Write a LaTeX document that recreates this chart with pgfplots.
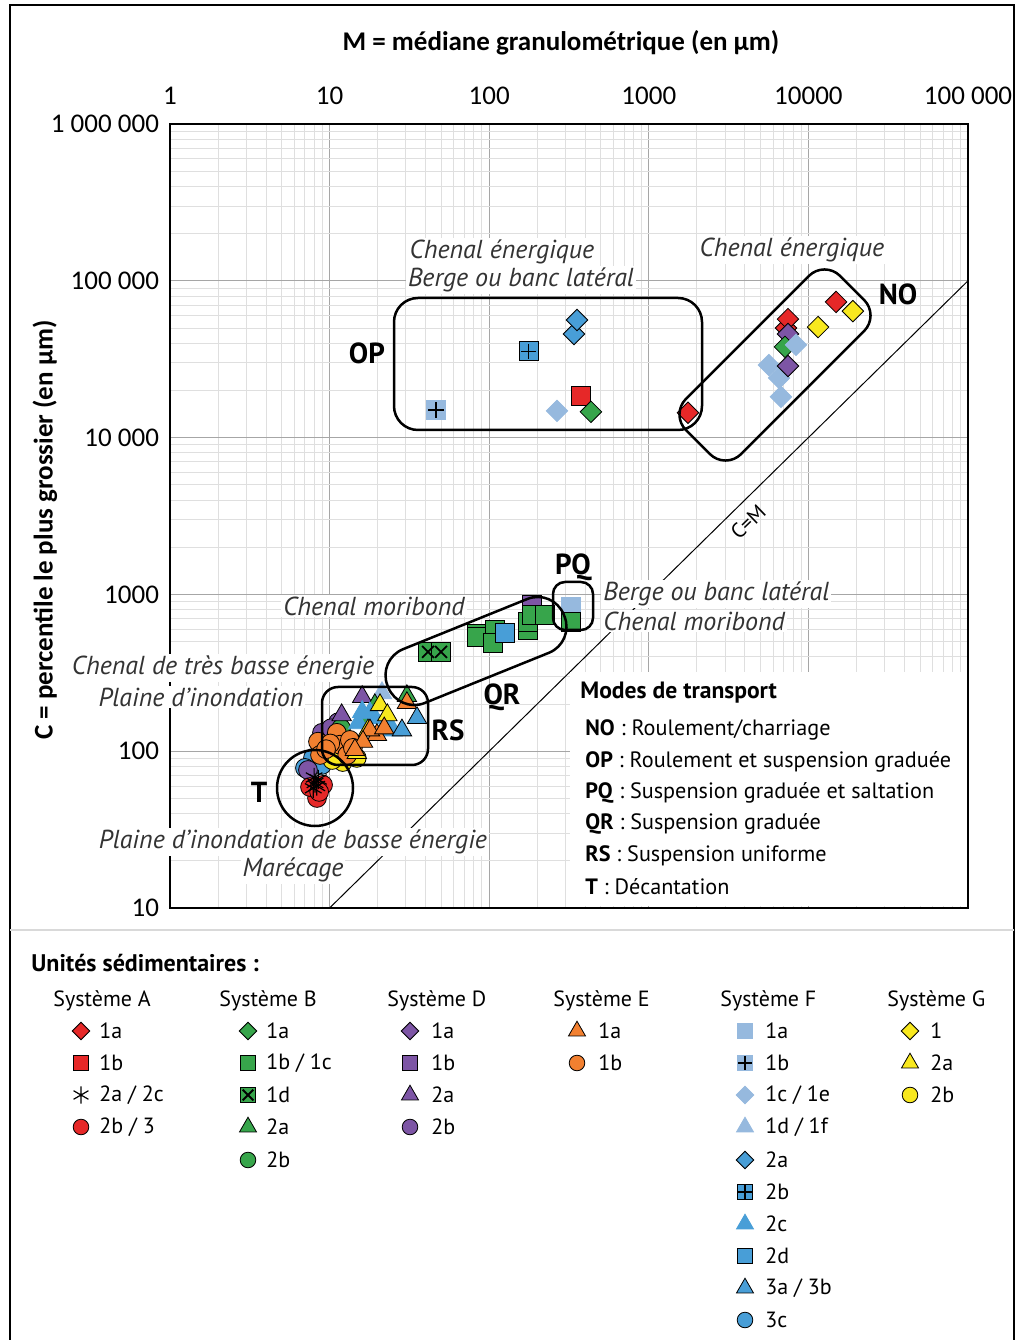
\documentclass[border=0pt]{standalone}
\usepackage{pgfplots}
\pgfplotsset{compat=1.18}
\usepackage{fontspec}
\setmainfont{PT Sans}
\newfontfamily\carlito{Carlito}

\definecolor{cRed}{RGB}{230,40,40}
\definecolor{cGreen}{RGB}{55,165,75}
\definecolor{cPurple}{RGB}{125,85,165}
\definecolor{cOrange}{RGB}{242,128,48}
\definecolor{cLight}{RGB}{150,185,222}
\definecolor{cBlue}{RGB}{72,158,215}
\definecolor{cYellow}{RGB}{248,232,30}

\pgfplotsset{
  D/.style={only marks, mark=square*, mark size=3.8pt, mark options={rotate=45, fill=#1, draw=black, line width=0.4pt}},
  Dn/.style={only marks, mark=square*, mark size=3.8pt, mark options={rotate=45, fill=#1, draw=#1, line width=0.4pt}},
  S/.style={only marks, mark=square*, mark size=4.7pt, mark options={fill=#1, draw=black, line width=0.4pt}},
  Sn/.style={only marks, mark=square*, mark size=4.7pt, mark options={fill=#1, draw=#1, line width=0.4pt}},
  Tr/.style={only marks, mark=triangle*, mark size=5.6pt, mark options={fill=#1, draw=black, line width=0.4pt}},
  Trn/.style={only marks, mark=triangle*, mark size=5.6pt, mark options={fill=#1, draw=#1, line width=0.4pt}},
  Ci/.style={only marks, mark=*, mark size=4.7pt, mark options={fill=#1, draw=black, line width=0.4pt}},
  Pl/.style={only marks, mark=+, mark size=3.8pt, mark options={draw=black, line width=0.6pt}},
  Xx/.style={only marks, mark=x, mark size=4.2pt, mark options={draw=black, line width=0.9pt}},
  St/.style={only marks, mark=asterisk, mark size=4.8pt, mark options={draw=black, line width=0.6pt}},
}

\begin{document}
\begin{tikzpicture}[
  ann/.style={font=\itshape\fontsize{13}{15}\selectfont, text=black!80, fill=white, inner sep=1pt},
  zl/.style={font=\bfseries\fontsize{14.5}{16}\selectfont},
  zone/.style={line width=1.25pt, black},
  lg/.style={anchor=west, font=\fontsize{11}{13}\selectfont, inner sep=0pt},
  md/.style={anchor=west, font=\fontsize{11.1}{13}\selectfont, inner sep=0pt}]
\path[use as bounding box] (0pt,0pt) rectangle (508pt,670pt);

\begin{axis}[
  at={(85pt,216pt)}, anchor=south west,
  width=399pt, height=392pt, scale only axis,
  xmode=log, ymode=log,
  xmin=1, xmax=100000, ymin=10, ymax=1000000,
  xtick={1,10,100,1000,10000,100000},
  xticklabels={1,10,100,1000,10000,100 000},
  ytick={10,100,1000,10000,100000,1000000},
  yticklabels={10,100,1000,10 000,100 000,1 000 000},
  minor xtick={2,3,4,5,6,7,8,9,20,30,40,50,60,70,80,90,200,300,400,500,600,700,800,900,2000,3000,4000,5000,6000,7000,8000,9000,20000,30000,40000,50000,60000,70000,80000,90000},
  minor ytick={20,30,40,50,60,70,80,90,200,300,400,500,600,700,800,900,2000,3000,4000,5000,6000,7000,8000,9000,20000,30000,40000,50000,60000,70000,80000,90000,200000,300000,400000,500000,600000,700000,800000,900000},
  xticklabel pos=upper,
  major tick length=0pt, minor tick length=0pt,
  grid=both,
  major grid style={gray!70, line width=0.5pt},
  minor grid style={gray!25, line width=0.4pt},
  axis line style={line width=0.8pt},
  tick label style={font=\carlito\fontsize{13.5}{15}\selectfont},
  xticklabel style={yshift=6pt},
  yticklabel style={xshift=-2pt},
  clip=false,
]
\addplot[black, line width=0.5pt] coordinates {(10,10) (100000,100000)};

% cercles
\addplot[Ci=cBlue] coordinates {(7.87,90.6) (8.96,81.7) (7.01,78.2)};
\addplot[Ci=cPurple] coordinates {(11.3,153) (8.96,131) (7.32,75.9) (10.2,140)};
\addplot[Ci=cGreen] coordinates {(11.8,140)};
\addplot[Ci=cYellow] coordinates {(12.1,85.3) (10.4,87.9) (14.8,90.6)};
\addplot[Ci=cOrange] coordinates {(8.46,115) (8.71,94.6) (11.1,131) (11.6,110) (12.9,94.6) (10.1,112) (13.4,118) (9.5,103) (14,105)};
\addplot[Ci=cRed] coordinates {(8.34,50.3) (7.54,59.1) (9.1,61) (8.6,55)};
\addplot[St] coordinates {(8.1,62.7) (8.3,60) (7.9,58) (8.5,66) (8.0,68)};

% triangles
\addplot[Tr=cPurple] coordinates {(16.0,222) (11.9,170)};
\addplot[Trn=cLight] coordinates {(21.3,235)};
\addplot[Tr=cGreen] coordinates {(30.5,225) (19.2,197) (16.5,165)};
\addplot[Trn=cBlue] coordinates {(16,178) (15.1,151) (19.2,163) (22.9,153) (24.9,136) (17.9,175)};
\addplot[Tr=cYellow] coordinates {(20.7,197) (17.4,136) (14.8,97.5) (23,170)};
\addplot[Tr=cOrange] coordinates {(30.5,203) (19.8,127) (17.9,136) (16.2,115) (14.4,102) (22,140)};
\addplot[Tr=cBlue] coordinates {(35.3,163) (28.4,136)};

% carres
\addplot[S=cGreen] coordinates {(83.9,560)};
\addplot[Xx] coordinates {(83.9,560)};
\addplot[S=cGreen] coordinates {(41.4,430) (49.9,430)};
\addplot[Xx] coordinates {(41.4,430) (49.9,430)};
\addplot[S=cPurple] coordinates {(185,855)};
\addplot[Sn=cLight] coordinates {(326,830)};
\addplot[S=cGreen] coordinates {(83.9,535) (109,593) (106,490) (175,593) (175,667) (185,740) (224,740) (326,667)};
\addplot[S=cBlue] coordinates {(126,568)};
\addplot[S=cRed] coordinates {(376,18400)};
\addplot[Sn=cLight] coordinates {(46.4,15000)};
\addplot[Pl] coordinates {(46.4,15000)};
\addplot[S=cBlue] coordinates {(177,35600)};
\addplot[Pl] coordinates {(177,35600)};

% losanges
\addplot[Dn=cLight] coordinates {(266,14800) (5660,29000) (6550,24000) (6730,18200)};
\addplot[D=cRed] coordinates {(1760,14400) (14900,73300) (7240,50000) (7450,57000)};
\addplot[D=cPurple] coordinates {(7450,45800) (7450,28600)};
\addplot[D=cGreen] coordinates {(434,14600) (7130,37900)};
\addplot[Dn=cLight] coordinates {(8360,39000)};
\addplot[D=cBlue] coordinates {(340,45800) (355,56200)};
\addplot[D=cYellow] coordinates {(11500,50700) (19000,64100)};
\end{axis}

% legende
\begin{axis}[
  at={(0pt,0pt)}, anchor=south west,
  width=508pt, height=205pt, scale only axis,
  xmin=0, xmax=1016, ymin=930, ymax=1340, y dir=reverse,
  hide axis, clip=false,
]
\addplot[D=cRed, mark size=3.1pt] coordinates {(81,1031)};
\addplot[S=cRed, mark size=3.6pt] coordinates {(81,1063)};
\addplot[St, mark size=4.3pt] coordinates {(81,1095)};
\addplot[Ci=cRed, mark size=3.9pt] coordinates {(81,1127)};
\addplot[D=cGreen, mark size=3.1pt] coordinates {(248,1031)};
\addplot[S=cGreen, mark size=3.6pt] coordinates {(248,1063) (248,1095)};
\addplot[Xx, mark size=3.8pt] coordinates {(248,1095)};
\addplot[Tr=cGreen, mark size=4.9pt] coordinates {(248,1127)};
\addplot[Ci=cGreen, mark size=3.9pt] coordinates {(248,1160)};
\addplot[D=cPurple, mark size=3.1pt] coordinates {(410,1031)};
\addplot[S=cPurple, mark size=3.6pt] coordinates {(410,1063)};
\addplot[Tr=cPurple, mark size=4.9pt] coordinates {(410,1095)};
\addplot[Ci=cPurple, mark size=3.9pt] coordinates {(410,1127)};
\addplot[Tr=cOrange, mark size=4.9pt] coordinates {(577,1031)};
\addplot[Ci=cOrange, mark size=3.9pt] coordinates {(577,1063)};
\addplot[Sn=cLight, mark size=3.6pt] coordinates {(745,1031) (745,1063)};
\addplot[Pl, mark size=3.4pt] coordinates {(745,1063)};
\addplot[Dn=cLight, mark size=3.1pt] coordinates {(745,1095)};
\addplot[Trn=cLight, mark size=4.9pt] coordinates {(745,1127)};
\addplot[D=cBlue, mark size=3.1pt] coordinates {(745,1160)};
\addplot[S=cBlue, mark size=3.6pt] coordinates {(745,1192)};
\addplot[Pl, mark size=3.4pt] coordinates {(745,1192)};
\addplot[Trn=cBlue, mark size=4.9pt] coordinates {(745,1224)};
\addplot[S=cBlue, mark size=3.6pt] coordinates {(745,1256)};
\addplot[Tr=cBlue, mark size=4.9pt] coordinates {(745,1288)};
\addplot[Ci=cBlue, mark size=3.9pt] coordinates {(745,1320)};
\addplot[D=cYellow, mark size=3.1pt] coordinates {(910,1031)};
\addplot[Tr=cYellow, mark size=4.9pt] coordinates {(910,1063)};
\addplot[Ci=cYellow, mark size=3.9pt] coordinates {(910,1095)};
\end{axis}

\begin{scope}[x=0.5pt, y=-0.5pt, shift={(0pt,670pt)}]
\draw[line width=0.9pt] (10,1340) -- (10,5) -- (1014,5) -- (1014,1340);
\draw[gray!30, line width=0.6pt] (10,930) -- (1014,930);

% titres des axes
\node[font=\carlito\bfseries\fontsize{13.5}{16}\selectfont] at (561,43) {M = médiane granulométrique (en µm)};
\node[rotate=90, font=\carlito\bfseries\fontsize{13.5}{16}\selectfont] at (45,530) {C = percentile le plus grossier (en µm)};

% encadre modes de transport
\fill[white] (570,672) rectangle (966.5,906.5);
\node[anchor=west, font=\bfseries\fontsize{11.8}{13}\selectfont, inner sep=0pt] at (580,693) {Modes de transport};
\node[md] at (585,730) {\textbf{NO} : Roulement/charriage};
\node[md] at (585,762) {\textbf{OP} : Roulement et suspension graduée};
\node[md] at (585,793) {\textbf{PQ} : Suspension graduée et saltation};
\node[md] at (585,824) {\textbf{QR} : Suspension graduée};
\node[md] at (585,856) {\textbf{RS} : Suspension uniforme};
\node[md] at (585,887) {\textbf{T} : Décantation};

% annotations
\node[ann] at (502,252) {Chenal énergique};
\node[ann] at (521,280) {Berge ou banc latéral};
\node[ann] at (792,250) {Chenal énergique};
\node[ann] at (374,606) {Chenal moribond};
\node[ann, anchor=west] at (601,594) {Berge ou banc latéral};
\node[ann, anchor=west] at (601,621) {Chenal moribond};
\node[ann] at (223,668) {Chenal de très basse énergie};
\node[ann] at (201,697) {Plaine d’inondation};
\node[ann] at (293,842) {Plaine d’inondation de basse énergie};
\node[ann] at (293,870) {Marécage};
\node[rotate=44, inner sep=0pt, font=\fontsize{10.5}{12}\selectfont] at (748,522) {C=M};

% enveloppes
\draw[zone, rounded corners=12pt] (394,298) rectangle (702,430);
\node[zone, draw, rotate=45, minimum width=109pt, minimum height=39pt, rounded corners=11pt] at (775,365) {};
\node[zone, draw, rotate=22, minimum width=95pt, minimum height=29pt, rounded corners=14pt] at (476,651) {};
\draw[zone, rounded corners=6pt] (553,582) rectangle (593,630);
\draw[zone, rounded corners=8pt] (322,687) rectangle (428,765);
\draw[zone] (315,788) circle[radius=19pt];

\node[zl] at (367,353) {OP};
\node[zl] at (898,294) {NO};
\node[zl] at (573,567) {PQ};
\node[zl] at (502,697) {QR};
\node[zl] at (448,730) {RS};
\node[zl] at (259,792) {T};

% legende : textes
\node[anchor=west, font=\bfseries\fontsize{12}{14}\selectfont, inner sep=0pt] at (31,963) {Unités sédimentaires :};
\node[lg] at (53,1001) {Système A};
\node[lg] at (219,1001) {Système B};
\node[lg] at (387,1001) {Système D};
\node[lg] at (553,1001) {Système E};
\node[lg] at (720,1001) {Système F};
\node[lg] at (887,1001) {Système G};
\node[lg] at (99,1031) {1a};
\node[lg] at (99,1063) {1b};
\node[lg] at (99,1095) {2a / 2c};
\node[lg] at (99,1127) {2b / 3};
\node[lg] at (266,1031) {1a};
\node[lg] at (266,1063) {1b / 1c};
\node[lg] at (266,1095) {1d};
\node[lg] at (266,1127) {2a};
\node[lg] at (266,1160) {2b};
\node[lg] at (431,1031) {1a};
\node[lg] at (431,1063) {1b};
\node[lg] at (431,1095) {2a};
\node[lg] at (431,1127) {2b};
\node[lg] at (598,1031) {1a};
\node[lg] at (598,1063) {1b};
\node[lg] at (765,1031) {1a};
\node[lg] at (765,1063) {1b};
\node[lg] at (765,1095) {1c / 1e};
\node[lg] at (765,1127) {1d / 1f};
\node[lg] at (765,1160) {2a};
\node[lg] at (765,1192) {2b};
\node[lg] at (765,1224) {2c};
\node[lg] at (765,1256) {2d};
\node[lg] at (765,1288) {3a / 3b};
\node[lg] at (765,1320) {3c};
\node[lg] at (930,1031) {1};
\node[lg] at (930,1063) {2a};
\node[lg] at (930,1095) {2b};
\end{scope}
\end{tikzpicture}
\end{document}
